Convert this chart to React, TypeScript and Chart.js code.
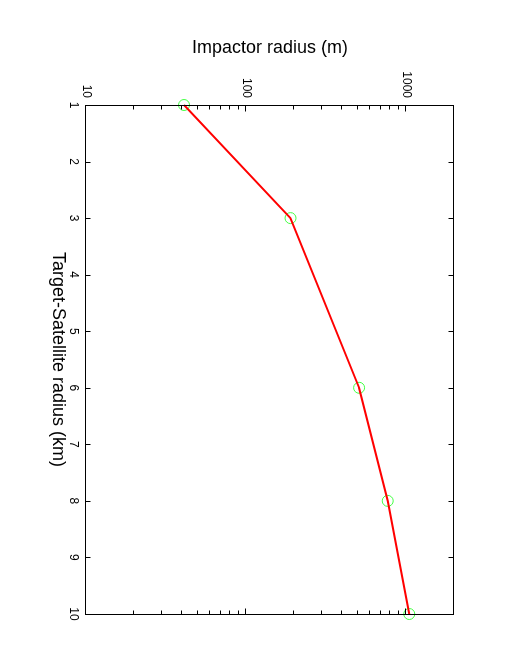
import React, { useEffect, useRef } from 'react';
import { Chart, registerables } from 'chart.js';

Chart.register(...registerables);

// Data
const KM = [1, 3, 6, 8, 10];
const IMPACTOR_M = [41, 190, 510, 770, 1050];

// Axis ticks
const KM_TICKS = [1, 2, 3, 4, 5, 6, 7, 8, 9, 10];
const LOG_MAJOR = [10, 100, 1000];
const LOG_MINOR = [20, 30, 40, 50, 60, 70, 80, 90, 200, 300, 400, 500, 600, 700, 800, 900];

const X_TITLE = 'Target-Satellite radius (km)';
const Y_TITLE = 'Impactor radius (m)';

const FONT = 'Liberation Sans, Arial, Helvetica, sans-serif';

const framePlugin = {
  id: 'frame',
  afterDraw(chart: any) {
    const { ctx, chartArea: a, scales } = chart;
    const x = scales.x;
    const y = scales.y;
    ctx.save();
    ctx.strokeStyle = '#000';
    ctx.lineWidth = 1;
    ctx.beginPath();
    const top = a.top + 0.5;
    const bottom = a.bottom + 0.5;
    const left = a.left + 0.5;
    const right = a.right + 0.5;
    for (const v of KM_TICKS) {
      const px = Math.round(x.getPixelForValue(v)) + 0.5;
      ctx.moveTo(px, bottom);
      ctx.lineTo(px, bottom - 5);
      ctx.moveTo(px, top);
      ctx.lineTo(px, top + 5);
    }
    const logTick = (v: number, len: number) => {
      const py = Math.round(y.getPixelForValue(v)) + 0.5;
      ctx.moveTo(left, py);
      ctx.lineTo(left + len, py);
      ctx.moveTo(right, py);
      ctx.lineTo(right - len, py);
    };
    for (const v of LOG_MAJOR) logTick(v, 6);
    for (const v of LOG_MINOR) logTick(v, 4);
    ctx.stroke();
    ctx.strokeRect(left, top, a.right - a.left, a.bottom - a.top);
    ctx.restore();
  },
};

export default function App() {
  const ref = useRef<HTMLCanvasElement | null>(null);

  useEffect(() => {
    const canvas = ref.current;
    if (!canvas) return;
    const points = KM.map((k, i) => ({ x: k, y: IMPACTOR_M[i] }));
    const chart = new Chart(canvas, {
      type: 'line',
      data: {
        datasets: [
          {
            data: points,
            borderColor: '#ff0000',
            borderWidth: 2,
            pointRadius: 0,
            fill: false,
            tension: 0,
            clip: false as any,
            order: 1,
          },
          {
            data: points,
            showLine: false,
            borderColor: '#44ff44',
            backgroundColor: 'rgba(0,0,0,0)',
            pointRadius: 5.5,
            pointBorderWidth: 1,
            pointBorderColor: '#44ff44',
            pointBackgroundColor: 'rgba(0,0,0,0)',
            clip: false as any,
            order: 2,
          },
        ],
      },
      options: {
        animation: false,
        responsive: false,
        devicePixelRatio: 1,
        layout: { padding: { top: 56, right: 46, left: 0, bottom: 0 } },
        plugins: {
          legend: { display: false },
          tooltip: { enabled: false },
        },
        events: [],
        scales: {
          x: {
            type: 'linear',
            position: 'bottom',
            min: 1,
            max: 10,
            grid: { display: false, drawTicks: false },
            border: { display: false },
            afterBuildTicks: (s: any) => {
              s.ticks = KM_TICKS.map((v) => ({ value: v }));
            },
            afterFit: (s: any) => {
              s.height = 86;
            },
            ticks: {
              color: '#000',
              padding: 5,
              maxRotation: 0,
              autoSkip: false,
              font: { family: FONT, size: 12 },
              callback: (v: any) => String(v),
            },
            title: {
              display: true,
              text: X_TITLE,
              color: '#000',
              font: { family: FONT, size: 18 },
              padding: { top: 0, bottom: 47 },
            },
          },
          y: {
            type: 'logarithmic',
            position: 'left',
            min: 10,
            max: 2000,
            grid: { display: false, drawTicks: false },
            border: { display: false },
            afterBuildTicks: (s: any) => {
              s.ticks = LOG_MAJOR.map((v) => ({ value: v }));
            },
            afterFit: (s: any) => {
              s.width = 105;
            },
            ticks: {
              color: '#000',
              padding: 7,
              autoSkip: false,
              font: { family: FONT, size: 12 },
              callback: (v: any) => String(v),
            },
            title: {
              display: true,
              text: Y_TITLE,
              color: '#000',
              font: { family: FONT, size: 18 },
              padding: { top: 37, bottom: 0 },
            },
          },
        },
      },
      plugins: [framePlugin],
    } as any);
    return () => chart.destroy();
  }, []);

  return (
    <div
      style={{
        position: 'absolute',
        left: 0,
        top: 0,
        width: 660,
        height: 510,
        background: '#fff',
        transformOrigin: '0 0',
        transform: 'translate(510px, 0px) rotate(90deg)',
      }}
    >
      <canvas ref={ref} width={660} height={510} style={{ display: 'block', width: 660, height: 510 }} />
    </div>
  );
}
